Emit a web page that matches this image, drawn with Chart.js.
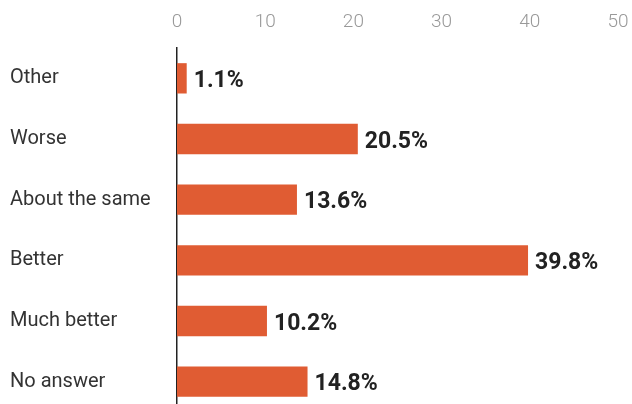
<!DOCTYPE html>
<html>
<head>
<meta charset="utf-8">
<script src="https://cdn.jsdelivr.net/npm/chart.js@4"></script>
<style>
  html, body { margin: 0; padding: 0; background: #fff; overflow: hidden; }
  #wrap { width: 632px; height: 427px; position: relative; }
</style>
</head>
<body>
<div id="wrap"><canvas id="answers"></canvas></div>
<script>
const categories = ['Other', 'Worse', 'About the same', 'Better', 'Much better', 'No answer'];
const shares = [1.1, 20.5, 13.6, 39.8, 10.2, 14.8];
const xTicks = [0, 10, 20, 30, 40, 50];

// write the percentage just past the end of each bar
const valueLabels = {
  id: 'valueLabels',
  afterDatasetsDraw(chart) {
    const {ctx} = chart;
    const meta = chart.getDatasetMeta(0);
    ctx.save();
    ctx.font = 'bold 23px Roboto';
    ctx.fillStyle = '#222';
    ctx.textAlign = 'left';
    ctx.textBaseline = 'middle';
    meta.data.forEach((bar, i) => {
      ctx.fillText(shares[i].toFixed(1) + '%', bar.x + 7, bar.y + 3);
    });
    ctx.restore();
  },
};

new Chart(document.getElementById('answers'), {
  type: 'bar',
  data: {
    labels: categories,
    datasets: [{
      data: shares,
      backgroundColor: '#e05c33',
      barPercentage: 0.5,
      categoryPercentage: 1,
    }],
  },
  options: {
    indexAxis: 'y',
    responsive: true,
    maintainAspectRatio: false,
    animation: false,
    layout: {padding: {left: 10, right: 0, top: 0, bottom: 0}},
    plugins: {
      legend: {display: false},
      tooltip: {enabled: false},
    },
    scales: {
      x: {
        position: 'top',
        min: 0,
        max: 50,
        afterBuildTicks: (scale) => {
          scale.ticks = xTicks.map(v => ({value: v}));
        },
        grid: {display: false},
        border: {display: false},
        ticks: {
          color: '#999',
          font: {family: 'Roboto', size: 19, weight: 300},
          padding: 6,
        },
        afterFit: (scale) => {
          scale.height = 48;
          scale.paddingRight = 14;
        },
      },
      y: {
        grid: {display: false},
        border: {display: true, color: '#222', width: 1.5},
        ticks: {
          color: '#333',
          crossAlign: 'far',
          font: {family: 'Roboto', size: 20},
        },
        afterFit: (scale) => { scale.width = 167; },
      },
    },
  },
  plugins: [valueLabels],
});
</script>
</body>
</html>
